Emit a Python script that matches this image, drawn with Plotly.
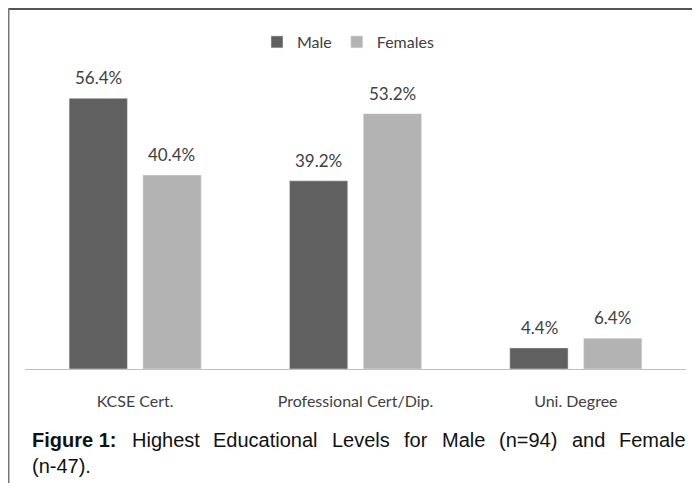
import plotly.graph_objects as go

categories = ["KCSE Cert.", "Professional Cert/Dip.", "Uni. Degree"]
male = [56.4, 39.2, 4.4]
female = [40.4, 53.2, 6.4]
series_names = ["Male", "Females"]
male_color = "#606060"
female_color = "#b3b3b3"

caption_words = ["<b>Figure 1:</b>", "Highest", "Educational", "Levels", "for", "Male",
                 "(n=94)", "and", "Female"]
caption_word_x = [31, 131, 212, 331, 403, 441, 498, 571, 618]  # page pixel starts (justified line)
caption_line2 = "(n-47)."

W, H = 700, 483
OFF = 8  # page body margin
ml, mt = 17, 73
pw, ph = 661, 288
mr, mb = W - ml - pw, H - mt - ph

def px_x(p):  # page pixel -> paper x
    return (p - OFF - ml) / pw

def px_y(p):  # page pixel -> paper y
    return (mt + ph - (p - OFF)) / ph

fig = go.Figure()
fig.add_trace(go.Bar(x=categories, y=male, name=series_names[0], marker_color=male_color))
fig.add_trace(go.Bar(x=categories, y=female, name=series_names[1], marker_color=female_color))

label_font = dict(family="Lato", size=17, color="#404040")
slot = 36.75
for i, c in enumerate(categories):
    for vals, sh in ((male, -slot), (female, slot)):
        fig.add_annotation(x=c, y=vals[i], text=f"{vals[i]:.1f}%", showarrow=False,
                           xshift=sh, yshift=8, yanchor="bottom", font=label_font)

cap_font = dict(family="Liberation Sans", size=20, color="#111111")
for w, x in zip(caption_words, caption_word_x):
    fig.add_annotation(xref="paper", yref="paper", x=px_x(x), y=px_y(440), xanchor="left",
                       yanchor="middle", text=w, showarrow=False, font=cap_font, borderpad=0)
fig.add_annotation(xref="paper", yref="paper", x=px_x(31), y=px_y(466), xanchor="left",
                   yanchor="middle", text=caption_line2, showarrow=False, font=cap_font, borderpad=0)

# frame lines
fig.add_shape(type="line", xref="paper", yref="paper", x0=px_x(8), x1=px_x(708),
              y0=px_y(9), y1=px_y(9), line=dict(color="#555555", width=2))
fig.add_shape(type="line", xref="paper", yref="paper", x0=px_x(8.75), x1=px_x(8.75),
              y0=px_y(8), y1=px_y(491), line=dict(color="#777777", width=1.5))

fig.update_layout(
    width=W, height=H,
    margin=dict(l=ml, r=mr, t=mt, b=mb),
    paper_bgcolor="white", plot_bgcolor="white",
    barmode="group", bargap=0.33, bargroupgap=0.21,
    showlegend=True,
    legend=dict(orientation="h", x=px_x(348), xanchor="center", y=px_y(42), yanchor="middle",
                font=dict(family="Lato", size=16, color="#404040"), itemwidth=30,
                traceorder="normal"),
    xaxis=dict(showline=True, linecolor="#bfbfbf", linewidth=1, ticks="", showgrid=False,
               ticklabelstandoff=18,
               tickfont=dict(family="Lato", size=16, color="#404040")),
    yaxis=dict(range=[0, 60], visible=False, showgrid=False),
)

fig.write_html("out.html")
